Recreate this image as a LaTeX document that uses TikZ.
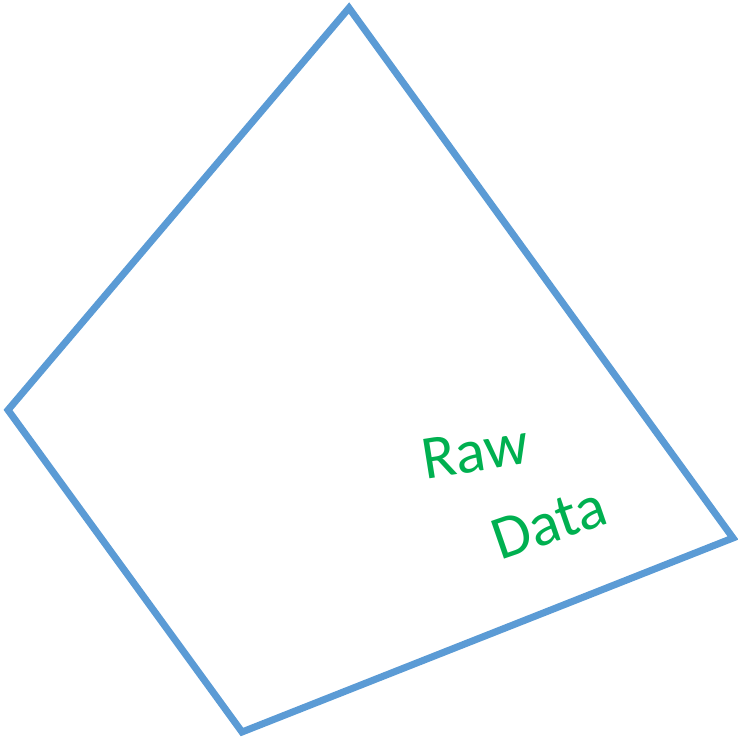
\documentclass[tikz,border=0pt]{standalone}
\usepackage{fontspec}
\setmainfont{Carlito}
\usetikzlibrary{positioning}
\definecolor{edgeblue}{HTML}{5B9BD5}
\definecolor{labelgreen}{HTML}{00B050}

\begin{document}
\begin{tikzpicture}[x=1pt, y=-1pt,
  frame/.style={draw=edgeblue, line width=7pt, line join=miter},
  lbl/.style={text=labelgreen, font=\fontsize{62}{62}\selectfont, inner sep=0pt}]
\useasboundingbox (0,0) rectangle (737,741);
\coordinate (top) at (349,8);
\coordinate (rgt) at (733,538);
\coordinate (bot) at (242,732);
\coordinate (lft) at (8,410);
\draw[frame] (top) -- (rgt) -- (bot) -- (lft) -- cycle;
\node[lbl, rotate=9] (raw) at (475,452) {Raw};
\node[lbl, rotate=19] (data) at (549,523) {Data};
\end{tikzpicture}
\end{document}
